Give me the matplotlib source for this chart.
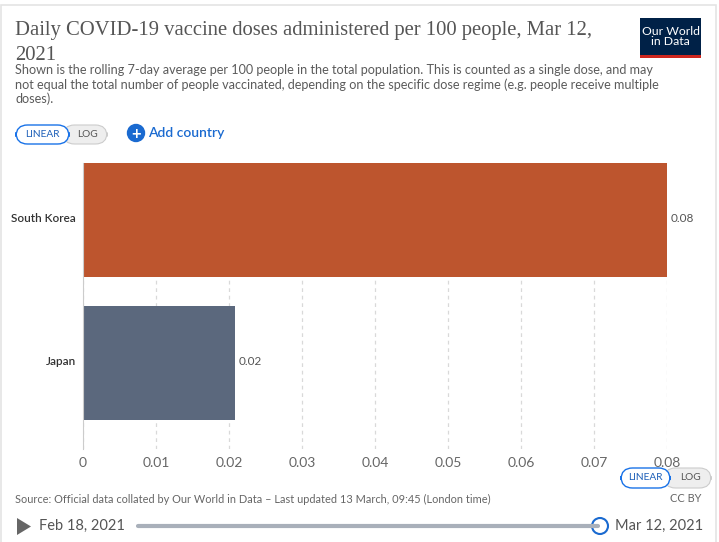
import matplotlib
matplotlib.use("Agg")
import matplotlib.pyplot as plt
from matplotlib import patches as mpatches

W, H = 719, 542

countries = ["South Korea", "Japan"]
doses = [0.08, 0.0208]
labels = ["0.08", "0.02"]
colors = ["#BD552E", "#5B687D"]
xticks = [0, 0.01, 0.02, 0.03, 0.04, 0.05, 0.06, 0.07, 0.08]
xticklabels = ["0", "0.01", "0.02", "0.03", "0.04", "0.05", "0.06", "0.07", "0.08"]

TITLE = "Daily COVID-19 vaccine doses administered per 100 people, Mar 12,\n2021"
SUBTITLE = ("Shown is the rolling 7-day average per 100 people in the total population. This is counted as a single dose, and may\n"
            "not equal the total number of people vaccinated, depending on the specific dose regime (e.g. people receive multiple\n"
            "doses).")
SOURCE = "Source: Official data collated by Our World in Data \u2013 Last updated 13 March, 09:45 (London time)"

plt.rcParams["font.family"] = ["Lato", "DejaVu Sans"]


def fx(px):
    return px / W


def fy(py):
    return 1 - py / H


fig = plt.figure(figsize=(W / 100, H / 100), dpi=100)
fig.patch.set_facecolor("white")

# card border
fig.add_artist(mpatches.Rectangle((fx(1), fy(560)), fx(715), (560 - 5) / H, transform=fig.transFigure,
                                  fill=False, edgecolor="#e4e4e4", lw=1.2))

ax = fig.add_axes([fx(83), fy(449), fx(667 - 83), (449 - 163) / H])
ax.barh(range(len(countries)), doses, height=0.8, color=colors, zorder=2)
ax.set_ylim(1.6, -0.4)
ax.set_xlim(0, 0.08)
ax.set_xticks(xticks)
ax.set_xticklabels(xticklabels, color="#666666", fontsize=10)
ax.set_yticks([])
for i, name in enumerate(countries):
    ax.annotate(name, xy=(0, i), xytext=(-5, 1.5), textcoords="offset points", ha="right", va="center",
                color="#333333", fontsize=8.5, fontweight="semibold")
ax.tick_params(length=0, axis="x", pad=6)
ax.grid(axis="x", color="#d9d9d9", linestyle=(0, (3, 3)), lw=0.9, zorder=0)
for s in ["top", "right", "bottom"]:
    ax.spines[s].set_visible(False)
ax.spines["left"].set_color("#cccccc")
ax.spines["left"].set_zorder(3)
for i, (v, lab) in enumerate(zip(doses, labels)):
    ax.text(v + 0.0005, i - 0.01, lab, va="center", ha="left", fontsize=8.5, color="#555555")

# title and subtitle
fig.text(fx(15), fy(43), TITLE, family=["Liberation Serif", "DejaVu Serif"], fontsize=14.9, color="#555555",
         va="center", ha="left", linespacing=1.4)
fig.text(fx(15), fy(84.5), SUBTITLE, fontsize=9.05, color="#5b5b5b", va="center", ha="left", linespacing=1.2)

# logo
fig.add_artist(mpatches.Rectangle((fx(640), fy(58)), fx(61), 40 / H, transform=fig.transFigure,
                                  color="#002147", lw=0))
fig.add_artist(mpatches.Rectangle((fx(640), fy(58)), fx(61), 3.5 / H, transform=fig.transFigure,
                                  color="#ce261e", lw=0))
fig.text(fx(670.5), fy(36.5), "Our World\nin Data", fontsize=8.8, color="white", ha="center", va="center",
         linespacing=0.95)


def toggle(x0, y0, w1, w2, h):
    fig.add_artist(mpatches.FancyBboxPatch((fx(x0 + w1 - 6), fy(y0 + h)), fx(w2 + 6), h / H,
                                           boxstyle="round,pad=0,rounding_size=0.016", transform=fig.transFigure,
                                           facecolor="#eeeeee", edgecolor="#cccccc", lw=0.8, mutation_aspect=W / H))
    fig.add_artist(mpatches.FancyBboxPatch((fx(x0), fy(y0 + h)), fx(w1), h / H,
                                           boxstyle="round,pad=0,rounding_size=0.016", transform=fig.transFigure,
                                           facecolor="white", edgecolor="#1a73e8", lw=1.0, mutation_aspect=W / H))
    fig.text(fx(x0 + w1 / 2), fy(y0 + h / 2), "LINEAR", fontsize=7.3, color="#1d5fb8", ha="center", va="center")
    fig.text(fx(x0 + w1 + w2 / 2), fy(y0 + h / 2), "LOG", fontsize=7.3, color="#555555", ha="center", va="center")


toggle(16, 125, 53, 38, 19)
toggle(621, 468, 49, 41, 20)

# add country
fig.add_artist(mpatches.Ellipse((fx(136), fy(133)), 17 / W, 17 / H, transform=fig.transFigure, color="#1a6ad0"))
fig.text(fx(136), fy(133.5), "+", fontsize=12, color="white", ha="center", va="center", fontweight="bold")
fig.text(fx(148), fy(133), "Add country", fontsize=10, color="#1a6ad0", ha="left", va="center",
         fontweight="semibold")

# footer
fig.text(fx(15), fy(499), SOURCE, fontsize=7.9, color="#666666", ha="left", va="center")
fig.text(fx(701), fy(499), "CC BY", fontsize=7.9, color="#666666", ha="right", va="center")

fig.add_artist(mpatches.Polygon([(fx(17), fy(518)), (fx(17), fy(535)), (fx(31), fy(526.5))],
                                transform=fig.transFigure, color="#666666", lw=0))
fig.text(fx(39), fy(526), "Feb 18, 2021", fontsize=10.5, color="#555555", ha="left", va="center")
fig.add_artist(plt.Line2D([fx(138), fx(598)], [fy(526), fy(526)], color="#a9b0ba", lw=3.0,
                          solid_capstyle="round"))
fig.add_artist(mpatches.Ellipse((fx(600), fy(526)), 16 / W, 16 / H, transform=fig.transFigure,
                                facecolor="white", edgecolor="#1a6ad0", lw=1.5))
fig.text(fx(615), fy(526), "Mar 12, 2021", fontsize=10.5, color="#555555", ha="left", va="center")

fig.savefig("out.png", dpi=100)
